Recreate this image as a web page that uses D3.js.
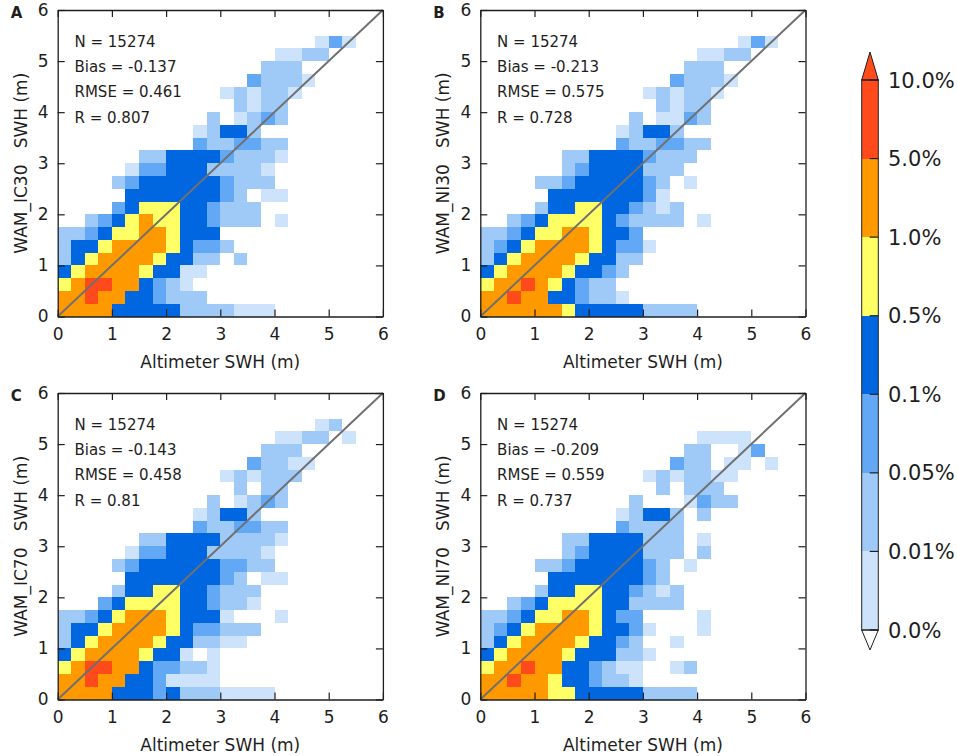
<!DOCTYPE html>
<html><head><meta charset="utf-8">
<script src="https://cdn.jsdelivr.net/npm/d3@7"></script>
<style>body{margin:0;background:#fff}text{font-family:"DejaVu Sans",sans-serif}</style>
</head><body><svg id="c" width="957" height="756"></svg>
<script>
// ---------------- data ----------------
const panelLetters = ["A","B","C","D"];
const modelNames = ["WAM_IC30","WAM_NI30","WAM_IC70","WAM_NI70"];
const statN = ["15274","15274","15274","15274"];
const statBias = ["-0.137","-0.213","-0.143","-0.209"];
const statRMSE = ["0.461","0.575","0.458","0.559"];
const statR = ["0.807","0.728","0.81","0.737"];
const axisTicks = [0,1,2,3,4,5,6];
const binWidth = 0.25;
const levelLabels = ["0.0%","0.01%","0.05%","0.1%","0.5%","1.0%","5.0%","10.0%"];
// rows from top (y 5.75-6) to bottom (y 0-0.25); "start:levels", level index per 0.25 m bin, "." = empty
const gridA = ["","","19:020","16:0011","15:111","14:21110","12:010110","13:1011","11:1.0121","10:01331","10:2112211",
 "6:11333321110","5:02233311110","4:123333332111","5:333333321.00","4:23444332111","2:1234544332111.0",
 "0:112344554333","0:1334555543221","0:134555543311.1","0:34555543300","0:4566553210","0:55655332111","0:5555333331111000"];
const gridB = ["","","19:020","16:0011","15:111","14:21110","12:010110","13:1011","11:1.0021","10:01331","10:2112211",
 "6:1133332111","6:123333111","4:1123333321.0","5:333333320","4:13344332101","2:1234444321111.0",
 "0:112344554332","0:1234555543220","0:134555543311","0:34555543321","0:4556543211","0:55655332110","0:5555554333331111"];
const gridC = ["","","19:01","16:0011.0","15:111","14:21100","12:010111","13:1.11","11:1.0121","10:01331","10:2112211",
 "6:11333311110","5:02233311110","4:123333332211","5:333333321.00","4:13344332111","3:234444332110",
 "0:1123455543330...0","0:133455554322111","0:13455554331100","0:3455554330.0","0:456655322110","0:556553320000","0:5555333231110000"];
const gridD = ["","","","16:0000","15:11..02","14:211.00.0","12:0101100","13:1.111","11:1...0211","10:01331.1","10:21111",
 "6:113333111.0","6:123333111.1","4:1123333321.0","5:333333321","4:13344332101","2:1234444331111",
 "0:112344554322....0","0:1234555543320...0","0:134555543321..0","0:3455554333110","0:455655332100..01","0:556554332110","0:5555544333331111"];
const grids = [gridA, gridB, gridC, gridD];

// ---------------- style ----------------
const levelColors = ["#cde3fb","#9fcaf8","#62a8f4","#0067e0","#ffff66","#ff9900","#ff4a1c"];
const panelLeft = [57.7, 480.3], panelTop = [10, 393], pw = 325.2, ph = 306.5;
const ink = "#1e1e1e";

const svg = d3.select("#c");

function parseGrid(rows){
  const cells = [];
  rows.forEach((s, r) => {
    if (!s) return;
    const j = rows.length - 1 - r;
    const [st, lev] = s.split(":");
    const start = +st;
    for (let k = 0; k < lev.length; k++) {
      const c = lev[k];
      if (c !== ".") cells.push({i: start + k, j: j, lev: +c});
    }
  });
  return cells;
}

function styleAxis(g){
  g.attr("font-size", 17).attr("font-family", "DejaVu Sans, sans-serif");
  g.select(".domain").attr("stroke", ink).attr("stroke-width", 1.3);
  g.selectAll(".tick line").attr("stroke", ink).attr("stroke-width", 1.2);
  g.selectAll(".tick text").attr("fill", ink);
}

panelLetters.forEach((L, k) => {
  const col = k % 2, row = Math.floor(k / 2);
  const x = d3.scaleLinear().domain([0, 6]).range([panelLeft[col], panelLeft[col] + pw]);
  const y = d3.scaleLinear().domain([0, 6]).range([panelTop[row] + ph, panelTop[row]]);
  const g = svg.append("g");
  const cells = parseGrid(grids[k]);
  g.selectAll("rect.cell").data(cells).join("rect").attr("class", "cell")
    .attr("x", d => x(d.i * binWidth))
    .attr("y", d => y((d.j + 1) * binWidth))
    .attr("width", d => x((d.i + 1) * binWidth) - x(d.i * binWidth))
    .attr("height", d => y(d.j * binWidth) - y((d.j + 1) * binWidth))
    .attr("fill", d => levelColors[d.lev])
    .attr("shape-rendering", "crispEdges");

  g.append("line").attr("x1", x(0)).attr("y1", y(0)).attr("x2", x(6)).attr("y2", y(6))
    .attr("stroke", "#707070").attr("stroke-width", 2);

  const gb = g.append("g").attr("transform", `translate(0,${y(0)})`)
    .call(d3.axisBottom(x).tickValues(axisTicks).tickSizeInner(-7).tickSizeOuter(0).tickPadding(11).tickFormat(d3.format("d")));
  styleAxis(gb);
  const gl = g.append("g").attr("transform", `translate(${x(0)},0)`)
    .call(d3.axisLeft(y).tickValues(axisTicks).tickSizeInner(-7).tickSizeOuter(0).tickPadding(9).tickFormat(d3.format("d")));
  styleAxis(gl);
  const gt = g.append("g").attr("transform", `translate(0,${y(6)})`)
    .call(d3.axisTop(x).tickValues(axisTicks).tickSizeInner(-7).tickSizeOuter(0).tickFormat(""));
  styleAxis(gt);
  const gr = g.append("g").attr("transform", `translate(${x(6)},0)`)
    .call(d3.axisRight(y).tickValues(axisTicks).tickSizeInner(-7).tickSizeOuter(0).tickFormat(""));
  styleAxis(gr);

  // titles
  g.append("text").attr("x", (x(0) + x(6)) / 2).attr("y", y(0) + 51).attr("text-anchor", "middle")
    .attr("font-size", 17).attr("fill", ink).text("Altimeter SWH (m)");
  g.append("text").attr("transform", `translate(${x(0) - 31},${(y(0) + y(6)) / 2}) rotate(-90)`)
    .attr("text-anchor", "middle").attr("font-size", 17).attr("fill", ink)
    .style("white-space", "pre").text(modelNames[k] + "   SWH (m)");
  g.append("text").attr("x", x(0) - 47).attr("y", y(6) + 8).attr("font-size", 15).attr("font-weight", "bold")
    .attr("fill", ink).text(L);

  const stats = [`N = ${statN[k]}`, `Bias = ${statBias[k]}`, `RMSE = ${statRMSE[k]}`, `R = ${statR[k]}`];
  g.selectAll("text.stat").data(stats).join("text").attr("class", "stat")
    .attr("x", x(0) + 16.8).attr("y", (d, n) => y(6) + 36.7 + n * 25.3)
    .attr("font-size", 15).attr("fill", ink).text(d => d);
});

// ---------------- colorbar ----------------
const cbx0 = 861.7, cbw = 16.6;
const cy = d3.scaleLinear().domain([0, levelLabels.length - 1]).range([630, 80]);
const cb = svg.append("g");
cb.selectAll("rect").data(levelColors).join("rect")
  .attr("x", cbx0).attr("width", cbw)
  .attr("y", (c, i) => cy(i + 1)).attr("height", (c, i) => cy(i) - cy(i + 1))
  .attr("fill", c => c).attr("shape-rendering", "crispEdges");
cb.append("path").attr("d", `M${cbx0},${cy(7)} L${cbx0 + cbw / 2},${cy(7) - 28} L${cbx0 + cbw},${cy(7)} Z`)
  .attr("fill", levelColors[6]).attr("stroke", ink).attr("stroke-width", 1);
cb.append("path").attr("d", `M${cbx0},${cy(0)} L${cbx0 + cbw / 2},${cy(0) + 20} L${cbx0 + cbw},${cy(0)} Z`)
  .attr("fill", "#fff").attr("stroke", ink).attr("stroke-width", 1);
cb.append("rect").attr("x", cbx0).attr("y", cy(7)).attr("width", cbw).attr("height", cy(0) - cy(7))
  .attr("fill", "none").attr("stroke", ink).attr("stroke-width", 1);
cb.selectAll("line.t").data(levelLabels).join("line").attr("class", "t")
  .attr("x1", cbx0 + 8).attr("x2", cbx0 + cbw).attr("y1", (d, i) => cy(i)).attr("y2", (d, i) => cy(i))
  .attr("stroke", ink).attr("stroke-width", 1.2);
cb.selectAll("text").data(levelLabels).join("text")
  .attr("x", 888).attr("y", (d, i) => cy(i)).attr("dy", "0.36em")
  .attr("font-size", 21).attr("fill", ink).text(d => d);
</script></body></html>
